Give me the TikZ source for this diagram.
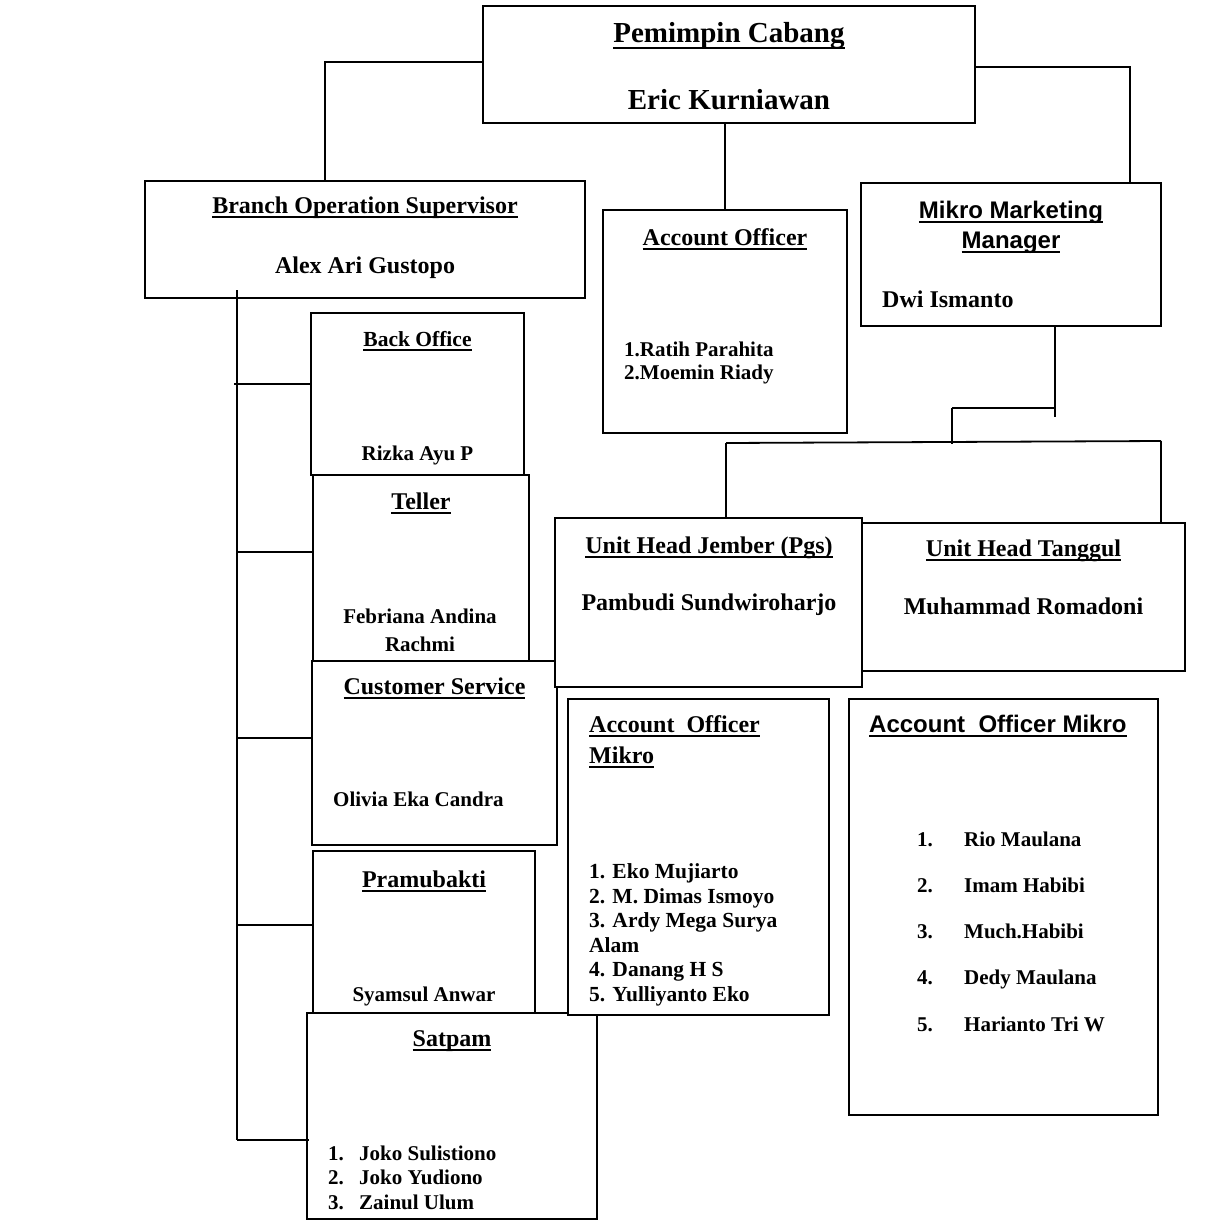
\documentclass[tikz,border=0pt]{standalone}
\usepackage{fontspec}
\setmainfont{Liberation Serif}
\newfontfamily\arialb{Liberation Sans}
\usetikzlibrary{fit,calc}
\newcommand\ulx[1]{\setbox0=\hbox{#1}\rlap{\rule[-0.21em]{\wd0}{0.07em}}\box0}
\begin{document}
\begin{tikzpicture}[x=1pt,y=-1pt,
  box/.style={draw, fill=white, line width=1.3pt, inner sep=0pt},
  conn/.style={line width=1.8pt},
  txt/.style={inner sep=0pt, anchor=base, font=\bfseries\fontsize{24}{28}\selectfont},
  txtl/.style={txt, anchor=base west},
  big/.style={font=\bfseries\fontsize{29}{34}\selectfont},
  mid/.style={font=\bfseries\fontsize{21.5}{26}\selectfont},
  sm/.style={font=\bfseries\fontsize{21}{25}\selectfont},
  sans/.style={font=\arialb\bfseries\fontsize{24}{28}\selectfont}]
\fill[white] (0,0) rectangle (1208,1220);
\useasboundingbox (0,0) rectangle (1208,1220);

% boxes
\node[box, fit={(483,6) (975,123)}] (pc) {};
\node[box, fit={(145,181) (585,298)}] (bos) {};
\node[box, fit={(603,210) (847,433)}] (ao) {};
\node[box, fit={(861,183) (1161,326)}] (mmm) {};
\node[box, fit={(311,313) (524,475)}] (bo) {};
\node[box, fit={(313,475) (529,661)}] (tel) {};
\node[box, fit={(312,661) (557,845)}] (cs) {};
\node[box, fit={(313,851) (535,1013)}] (pra) {};
\node[box, fit={(307,1013) (597,1219)}] (sat) {};
\node[box, fit={(862,523) (1185,671)}] (uht) {};
\node[box, fit={(555,518) (862,687)}] (uhj) {};
\node[box, fit={(568,699) (829,1015)}] (aom1) {};
\node[box, fit={(849,699) (1158,1115)}] (aom2) {};

% texts
\node[txt, big] (t1) at (729,43) {\ulx{Pemimpin Cabang}};
\node[txt, big] (t2) at (729,110) {Eric Kurniawan};
\node[txt] (t3) at (365,213) {\ulx{Branch Operation Supervisor}};
\node[txt] (t4) at (365,273) {Alex Ari Gustopo};
\node[txt] (t5) at (725,245) {\ulx{Account Officer}};
\node[txtl, sm] (t6) at (624,356) {1.Ratih Parahita};
\node[txtl, sm] (t7) at (624,379) {2.Moemin Riady};
\node[txt, sans] (t8) at (1011,218) {\ulx{Mikro Marketing}};
\node[txt, sans] (t9) at (1011,248) {\ulx{Manager}};
\node[txtl] (t10) at (882,307) {Dwi Ismanto};
\node[txt, mid] (t11) at (417.5,346) {\ulx{Back Office}};
\node[txt, sm] (t12) at (417.5,460) {Rizka Ayu P};
\node[txt] (t13) at (421,509) {\ulx{Teller}};
\node[txt, sm] (t14) at (420,623) {Febriana Andina};
\node[txt, sm] (t15) at (420,651) {Rachmi};
\node[txt] (t16) at (434.5,694) {\ulx{Customer Service}};
\node[txtl, sm] (t17) at (333,806) {Olivia Eka Candra};
\node[txt] (t18) at (424,887) {\ulx{Pramubakti}};
\node[txt, sm] (t19) at (424,1001) {Syamsul Anwar};
\node[txt] (t20) at (452,1046) {\ulx{Satpam}};
\node[txtl, sm] (t21) at (328,1160) {1.};
\node[txtl, sm] (t22) at (359,1160) {Joko Sulistiono};
\node[txtl, sm] (t23) at (328,1184) {2.};
\node[txtl, sm] (t24) at (359,1184) {Joko Yudiono};
\node[txtl, sm] (t25) at (328,1209) {3.};
\node[txtl, sm] (t26) at (359,1209) {Zainul Ulum};
\node[txt] (t27) at (709,553) {\ulx{Unit Head Jember (Pgs)}};
\node[txt] (t28) at (709,610) {Pambudi Sundwiroharjo};
\node[txt] (t29) at (1023.5,556) {\ulx{Unit Head Tanggul}};
\node[txt] (t30) at (1023.5,614) {Muhammad Romadoni};
\node[txtl] (t31) at (589,732) {\ulx{Account\ \ Officer}};
\node[txtl] (t32) at (589,763) {\ulx{Mikro}};
\node[txtl, mid] (t33) at (589,878) {1. Eko Mujiarto};
\node[txtl, mid] (t34) at (589,903) {2. M. Dimas Ismoyo};
\node[txtl, mid] (t35) at (589,927) {3. Ardy Mega Surya};
\node[txtl, mid] (t36) at (589,952) {Alam};
\node[txtl, mid] (t37) at (589,976) {4. Danang H S};
\node[txtl, mid] (t38) at (589,1001) {5. Yulliyanto Eko};
\node[txtl, sans] (t39) at (869,732) {\ulx{Account\ \ Officer Mikro}};
\node[txtl, sm] (t40) at (917,846) {1.};
\node[txtl, sm] (t41) at (964,846) {Rio Maulana};
\node[txtl, sm] (t42) at (917,892) {2.};
\node[txtl, sm] (t43) at (964,892) {Imam Habibi};
\node[txtl, sm] (t44) at (917,938) {3.};
\node[txtl, sm] (t45) at (964,938) {Much.Habibi};
\node[txtl, sm] (t46) at (917,984) {4.};
\node[txtl, sm] (t47) at (964,984) {Dedy Maulana};
\node[txtl, sm] (t48) at (917,1031) {5.};
\node[txtl, sm] (t49) at (964,1031) {Harianto Tri W};

% connectors
\coordinate (pcL) at (325,62);
\coordinate (pcR) at (1130,67);
\draw[conn] (pcL -| pc.west) -- (pcL) -- (pcL |- bos.north);
\draw[conn] (pcR -| pc.east) -- (pcR) -- (pcR |- mmm.north);
\draw[conn] (pc.south -| ao.north) -- (ao.north);

\coordinate (m1) at (1055,417);
\coordinate (m2) at (952,408);
\coordinate (m3) at (952,444);
\coordinate (hL) at (726,443);
\coordinate (hR) at (1161,441);
\draw[conn] (m1 |- mmm.south) -- (m1);
\draw[conn] (m2) -- (m2 -| m1);
\draw[conn] (m2) -- (m3);
\draw[conn] (hL) -- (hR);
\draw[conn] (hL) -- (hL |- uhj.north);
\draw[conn] (hR) -- (hR |- uht.north);

\coordinate (tr0) at (237,290);
\coordinate (tr1) at (237,1140);
\draw[conn] (tr0) -- (tr1);
\coordinate (b1) at (234,384);
\coordinate (b2) at (237,552);
\coordinate (b3) at (237,738);
\coordinate (b4) at (237,925);
\draw[conn] (b1) -- (b1 -| bo.west);
\draw[conn] (b2) -- (b2 -| tel.west);
\draw[conn] (b3) -- (b3 -| cs.west);
\draw[conn] (b4) -- (b4 -| pra.west);
\draw[conn] (tr1) -- ($(tr1 -| sat.west)+(3,0)$);
\end{tikzpicture}
\end{document}
